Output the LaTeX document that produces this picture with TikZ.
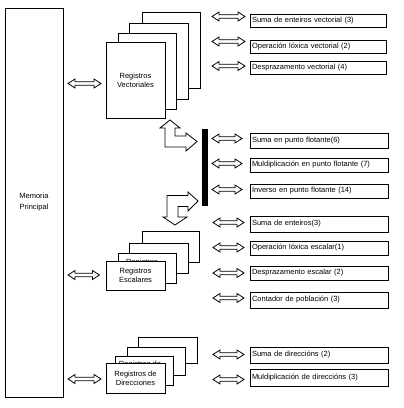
\documentclass[tikz,border=0pt]{standalone}
\usepackage{fontspec}
\setmainfont{Liberation Sans}
\newcommand\myDArrow[3]{%
  \draw[arr] ({#1},{#3}) -- ({#1+7},{#3-4.5}) -- ({#1+7},{#3-1.7}) -- ({#2-7},{#3-1.7})
    -- ({#2-7},{#3-4.5}) -- ({#2},{#3}) -- ({#2-7},{#3+4.5}) -- ({#2-7},{#3+1.7})
    -- ({#1+7},{#3+1.7}) -- ({#1+7},{#3+4.5}) -- cycle;}
\begin{document}
\begin{tikzpicture}[x=1pt,y=-1pt,line width=0.9pt,
  txt/.style={font=\fontsize{7.5}{9}\selectfont},
  regbox/.style={draw,fill=white,inner sep=0pt,txt,align=center},
  fbox/.style={draw,fill=white,inner xsep=2pt,inner ysep=0pt,text width=134pt,align=left,txt},
  arr/.style={draw,fill=white,line width=0.8pt,line join=miter},
  bar/.style={fill=black,draw=none,inner sep=0pt}]
\useasboundingbox (0,0) rectangle (404,408);

% Memoria principal
\node[regbox,minimum width=58pt,minimum height=389pt] (mem) at (34,202.5) {Memoria\\[2pt]Principal};

% Registros vectoriales
\node[regbox,minimum width=58pt,minimum height=76pt] (v4) at (171,50) {};
\node[regbox,minimum width=59pt,minimum height=76pt] (v3) at (158.5,61) {};
\node[regbox,minimum width=58pt,minimum height=76pt] (v2) at (147,71) {};
\node[regbox,minimum width=59pt,minimum height=76pt] (v1) at (135.5,80) {Registros\\Vectoriales};

% Registros escalares
\node[regbox,minimum width=57pt,minimum height=31pt] (s4) at (170.5,246.5) {};
\node[regbox,minimum width=59pt,minimum height=30pt] (s3) at (158.5,258) {};
\node[regbox,minimum width=58pt,minimum height=30pt] (s2) at (147,268) {};
\node[txt,inner sep=0pt] (s2t) at (142,262.5) {Registros};
\node[regbox,minimum width=59pt,minimum height=29pt] (s1) at (135.5,275.5) {Registros\\Escalares};

% Registros de direcciones
\node[regbox,minimum width=59pt,minimum height=26pt] (d4) at (167.5,350) {};
\node[regbox,minimum width=58pt,minimum height=28pt] (d3) at (156,361) {};
\node[regbox,minimum width=58pt,minimum height=29pt] (d2) at (144,370.5) {};
\node[txt,inner sep=0pt] (d2t) at (140,364.5) {Registros de};
\node[regbox,minimum width=59pt,minimum height=30pt] (d1) at (135.5,378) {Registros de\\Direcciones};

% Bus
\node[bar,minimum width=6pt,minimum height=77pt] (bus) at (205,167.5) {};

% Unidades funcionales
\node[fbox,minimum height=13pt,text width=132pt] (f1) at (318,20.5) {Suma de enteiros vectorial (3)};
\node[fbox,minimum height=13pt,text width=132pt] (f2) at (318,46.5) {Operación lóxica vectorial (2)};
\node[fbox,minimum height=13pt,text width=132pt] (f3) at (318,67.5) {Desprazamento vectorial (4)};
\node[fbox,minimum height=15pt] (f4) at (319,140.5) {Suma en punto flotante(6)};
\node[fbox,minimum height=14pt] (f5) at (319,165) {Muldiplicación en punto flotante (7)};
\node[fbox,minimum height=14pt] (f6) at (319,191) {Inverso en punto flotante (14)};
\node[fbox,minimum height=16pt] (f7) at (319,224) {Suma de enteiros(3)};
\node[fbox,minimum height=14pt] (f8) at (319,248) {Operación lóxica escalar(1)};
\node[fbox,minimum height=14pt] (f9) at (319,273) {Desprazamento escalar (2)};
\node[fbox,minimum height=16pt] (f10) at (319,300) {Contador de población (3)};
\node[fbox,minimum height=16pt] (f11) at (319,355) {Suma de direccións (2)};
\node[fbox,minimum height=17pt] (f12) at (319,377.5) {Muldiplicación de direccións (3)};

% Flechas dobres
\myDArrow{68}{101}{83.5}
\myDArrow{68}{99.5}{275}
\myDArrow{68}{101}{379}
\myDArrow{212}{245}{16.5}
\myDArrow{212}{245}{41.5}
\myDArrow{212}{245}{66}
\myDArrow{212}{242}{138.5}
\myDArrow{212}{242}{163.5}
\myDArrow{212}{242}{189.5}
\myDArrow{213}{244}{222.5}
\myDArrow{213}{244}{247.5}
\myDArrow{213}{244}{273}
\myDArrow{213}{244}{298}
\myDArrow{213}{244}{354.5}
\myDArrow{213}{244}{379.5}

% Flechas acodadas
\draw[arr] (170,120) -- (180,128) -- (175,128) -- (175,136) -- (186,136) -- (186,133)
  -- (197,141.5) -- (186,151) -- (186,147) -- (165,147) -- (165,128) -- (160,128) -- cycle;
\draw[arr] (198,201) -- (188,192) -- (188,195.5) -- (167,195.5) -- (167,217) -- (163,217)
  -- (175,225) -- (187,217) -- (178,217) -- (178,206.5) -- (188,206.5) -- (188,211) -- cycle;
\end{tikzpicture}
\end{document}
